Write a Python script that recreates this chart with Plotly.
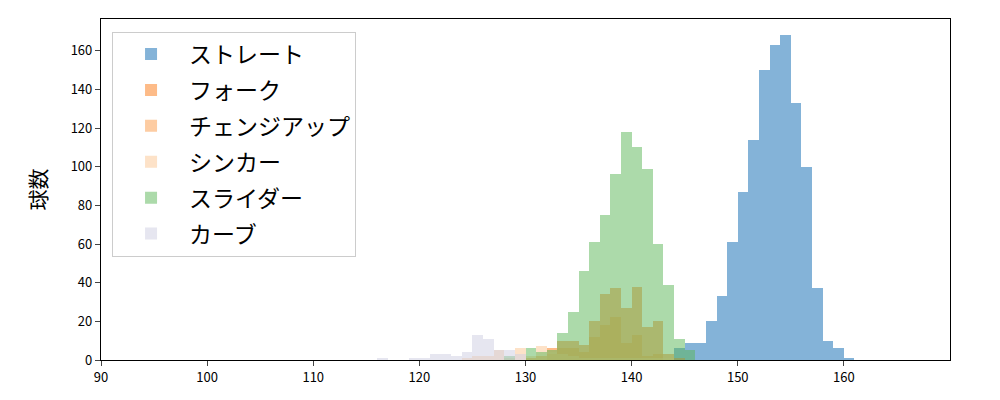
import plotly.graph_objects as go

# bin left edges (km/h), bin width 1
straight_bins = list(range(144, 161))
straight_cnt = [6, 9, 9, 20, 33, 61, 87, 114, 150, 163, 168, 133, 100, 37, 10, 6, 1]

fork_bins = list(range(130, 145))
fork_cnt = [1, 2, 6, 10, 10, 8, 20, 34, 37, 27, 38, 17, 20, 3, 1]

change_bins = list(range(132, 143))
change_cnt = [3, 6, 6, 4, 12, 18, 22, 9, 13, 2, 3]

sinker_bins = list(range(124, 144))
sinker_cnt = [1, 2, 2, 5, 1, 6, 2, 7, 4, 3, 2, 1, 1, 1, 1, 1, 1, 1, 1, 1]

slider_bins = list(range(128, 146))
slider_cnt = [2, 0, 6, 4, 5, 14, 25, 46, 61, 75, 96, 118, 110, 99, 60, 39, 11, 5]

curve_bins = [116, 119, 120, 121, 122, 123, 124, 125, 126, 127, 128, 129]
curve_cnt = [1, 1, 1, 3, 3, 2, 4, 13, 11, 5, 5, 3]

series = [
    ("ストレート", straight_bins, straight_cnt, "rgba(9,103,177,0.5)"),
    ("フォーク", fork_bins, fork_cnt, "rgba(251,119,17,0.5)"),
    ("チェンジアップ", change_bins, change_cnt, "rgba(251,153,69,0.5)"),
    ("シンカー", sinker_bins, sinker_cnt, "rgba(251,197,145,0.5)"),
    ("スライダー", slider_bins, slider_cnt, "rgba(89,181,85,0.5)"),
    ("カーブ", curve_bins, curve_cnt, "rgba(205,205,225,0.5)"),
]

x_ticks = [90, 100, 110, 120, 130, 140, 150, 160]
y_ticks = [0, 20, 40, 60, 80, 100, 120, 140, 160]

fig = go.Figure()
for i, (name, bins, cnt, color) in enumerate(series):
    fig.add_trace(go.Bar(
        x=bins, y=cnt, name=name, width=1, offset=0,
        marker=dict(color=color, line=dict(width=0)),
        legendgroup=f"g{i}",
    ))

font = "Noto Sans CJK JP, DejaVu Sans, sans-serif"
fig.update_layout(
    width=1000, height=400,
    margin=dict(l=93, r=58, t=11, b=48),
    barmode="overlay", bargap=0,
    plot_bgcolor="white", paper_bgcolor="white",
    font=dict(family=font, size=13, color="black"),
    showlegend=True,
    legend=dict(
        x=0.013, y=0.963, xanchor="left", yanchor="top",
        bgcolor="rgba(255,255,255,0.8)", bordercolor="#cccccc", borderwidth=1,
        font=dict(size=23, family=font), tracegroupgap=3,
        itemwidth=66,
    ),
    xaxis=dict(
        range=[90, 170], tickvals=x_ticks, ticks="outside", ticklen=5,
        showline=True, mirror=True, linecolor="black", linewidth=1.2,
        showgrid=False, zeroline=False,
    ),
    yaxis=dict(
        range=[0, 176.4], tickvals=y_ticks, ticks="outside", ticklen=5,
        showline=True, mirror=True, linecolor="black", linewidth=1.2,
        showgrid=False, zeroline=False,
        title=dict(text="球数", font=dict(size=21), standoff=18),
    ),
)
fig.write_html("out.html")
